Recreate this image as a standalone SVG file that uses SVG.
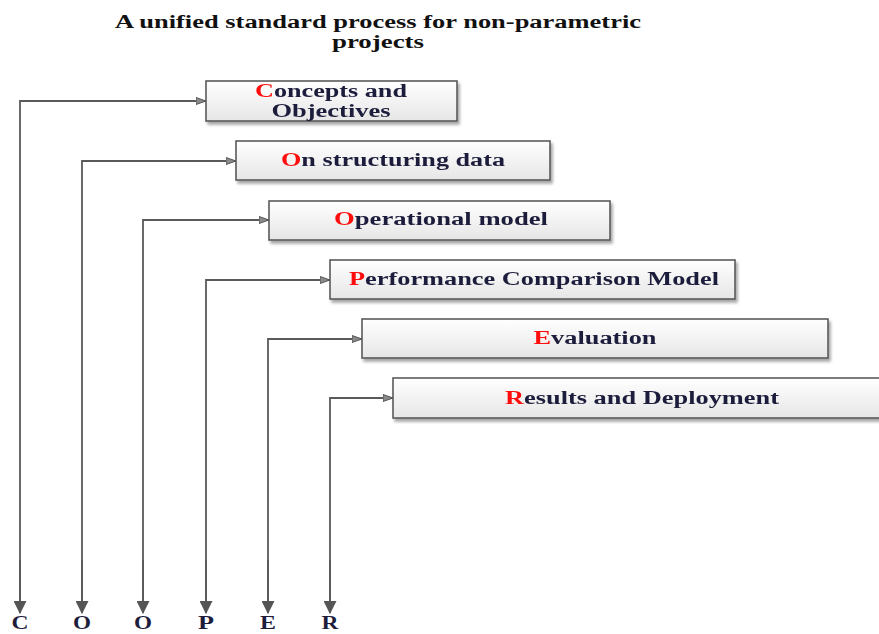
<svg xmlns="http://www.w3.org/2000/svg" width="879" height="634" viewBox="0 0 879 634">
  <defs>
    <linearGradient id="boxFill" x1="0" y1="0" x2="0" y2="1">
      <stop offset="0" stop-color="#ffffff"/>
      <stop offset="1" stop-color="#e6e6e6"/>
    </linearGradient>
    <filter id="shadow" x="-5%" y="-20%" width="115%" height="160%">
      <feGaussianBlur in="SourceAlpha" stdDeviation="1.5"/>
      <feOffset dx="2" dy="3" result="b"/>
      <feComponentTransfer><feFuncA type="linear" slope="0.35"/></feComponentTransfer>
      <feMerge><feMergeNode/><feMergeNode in="SourceGraphic"/></feMerge>
    </filter>
    <marker id="sideArrow" viewBox="0 0 10 10" refX="10" refY="5" markerWidth="10" markerHeight="10" markerUnits="userSpaceOnUse" orient="auto">
      <path d="M0,1.5 L10,5 L0,8.5 Z" fill="#8a8a8a" stroke="#555" stroke-width="1"/>
    </marker>
    <marker id="downArrow" viewBox="0 0 12 12" refX="11" refY="6" markerWidth="13" markerHeight="13" markerUnits="userSpaceOnUse" orient="auto">
      <path d="M0,0 L12,6 L0,12 Z" fill="#555"/>
    </marker>
  </defs>
  <style>
    .box { fill: url(#boxFill); stroke: #5a5a5a; stroke-width: 1.6; }
    .label { font-family: "Liberation Serif", "Times New Roman", serif; font-weight: bold; font-size: 18px; fill: #1e1e3c; text-anchor: middle; }
    .init { fill: #ff1010; }
    .title { font-family: "Liberation Serif", "Times New Roman", serif; font-weight: bold; font-size: 18px; fill: #111; text-anchor: middle; }
    .letter { font-family: "Liberation Serif", "Times New Roman", serif; font-weight: bold; font-size: 19px; fill: #1e1e3c; text-anchor: middle; }
    .wire { fill: none; stroke: #5a5a5a; stroke-width: 1.8; }
  </style>

  <g id="title">
    <text class="title" x="378" y="28" textLength="526" lengthAdjust="spacingAndGlyphs">A unified standard process for non-parametric</text>
    <text class="title" x="378" y="48" textLength="92" lengthAdjust="spacingAndGlyphs">projects</text>
  </g>

  <!-- connectors: each stage feeds down to its letter of the acronym -->
  <g id="connectors">
    <path class="wire" d="M20,612 V101 H206" marker-end="url(#sideArrow)"/>
    <path class="wire" d="M82,612 V161 H236" marker-end="url(#sideArrow)"/>
    <path class="wire" d="M143,612 V220 H269" marker-end="url(#sideArrow)"/>
    <path class="wire" d="M206,612 V280 H330" marker-end="url(#sideArrow)"/>
    <path class="wire" d="M268,612 V339 H362" marker-end="url(#sideArrow)"/>
    <path class="wire" d="M330,612 V398 H393" marker-end="url(#sideArrow)"/>
    <path class="wire" d="M20,560 V613" marker-end="url(#downArrow)"/>
    <path class="wire" d="M82,560 V613" marker-end="url(#downArrow)"/>
    <path class="wire" d="M143,560 V613" marker-end="url(#downArrow)"/>
    <path class="wire" d="M206,560 V613" marker-end="url(#downArrow)"/>
    <path class="wire" d="M268,560 V613" marker-end="url(#downArrow)"/>
    <path class="wire" d="M330,560 V613" marker-end="url(#downArrow)"/>
  </g>

  <g id="concepts" filter="url(#shadow)">
    <rect class="box" x="206" y="81" width="251" height="40"/>
    <text class="label" x="331" y="97" textLength="152" lengthAdjust="spacingAndGlyphs"><tspan class="init">C</tspan>oncepts and</text>
    <text class="label" x="331" y="117" textLength="119" lengthAdjust="spacingAndGlyphs">Objectives</text>
  </g>

  <g id="structuring" filter="url(#shadow)">
    <rect class="box" x="236" y="141" width="314" height="39"/>
    <text class="label" x="393" y="166" textLength="224" lengthAdjust="spacingAndGlyphs"><tspan class="init">O</tspan>n structuring data</text>
  </g>

  <g id="operational" filter="url(#shadow)">
    <rect class="box" x="269" y="201" width="341" height="39"/>
    <text class="label" x="441" y="225" textLength="214" lengthAdjust="spacingAndGlyphs"><tspan class="init">O</tspan>perational model</text>
  </g>

  <g id="performance" filter="url(#shadow)">
    <rect class="box" x="330" y="260" width="405" height="39"/>
    <text class="label" x="534" y="285" textLength="370" lengthAdjust="spacingAndGlyphs"><tspan class="init">P</tspan>erformance Comparison Model</text>
  </g>

  <g id="evaluation" filter="url(#shadow)">
    <rect class="box" x="362" y="319" width="466" height="39"/>
    <text class="label" x="595" y="344" textLength="123" lengthAdjust="spacingAndGlyphs"><tspan class="init">E</tspan>valuation</text>
  </g>

  <g id="results" filter="url(#shadow)">
    <rect class="box" x="393" y="378" width="500" height="40"/>
    <text class="label" x="642" y="404" textLength="274" lengthAdjust="spacingAndGlyphs"><tspan class="init">R</tspan>esults and Deployment</text>
  </g>

  <g id="acronym">
    <text class="letter" x="20" y="629" textLength="17" lengthAdjust="spacingAndGlyphs">C</text>
    <text class="letter" x="82" y="629" textLength="18" lengthAdjust="spacingAndGlyphs">O</text>
    <text class="letter" x="143" y="629" textLength="18" lengthAdjust="spacingAndGlyphs">O</text>
    <text class="letter" x="206" y="629" textLength="16" lengthAdjust="spacingAndGlyphs">P</text>
    <text class="letter" x="268" y="629" textLength="16" lengthAdjust="spacingAndGlyphs">E</text>
    <text class="letter" x="330" y="629" textLength="17" lengthAdjust="spacingAndGlyphs">R</text>
  </g>
</svg>
